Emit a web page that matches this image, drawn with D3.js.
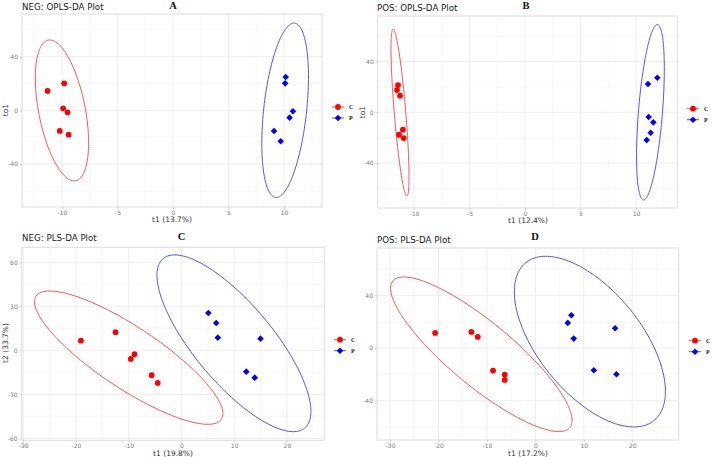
<!DOCTYPE html>
<html><head><meta charset="utf-8">
<script src="https://cdn.jsdelivr.net/npm/d3@7/dist/d3.min.js"></script>
<style>body{margin:0;background:#fff}svg{display:block}</style>
</head><body>
<svg id="chart" width="717" height="457"></svg>
<script>
// ---------- DATA ----------
const groups = ["C", "P"];
// Panel A: NEG OPLS-DA
const negOplsC = [[-11.3,14.4],[-9.8,20.1],[-9.9,1.5],[-9.5,-1.5],[-10.2,-15.4],[-9.4,-18.2]];
const negOplsP = [[10.15,24.8],[10.1,20.1],[10.8,-0.7],[10.5,-5.5],[9.1,-15.4],[9.7,-23.1]];
// Panel B: POS OPLS-DA
const posOplsC = [[-11.44,21.5],[-11.53,17.6],[-11.26,13.1],[-11.0,-13.7],[-11.35,-17.7],[-10.93,-20.3]];
const posOplsP = [[11.08,22.3],[11.92,27.3],[11.14,-3.7],[11.56,-7.9],[11.32,-16.1],[10.96,-21.9]];
// Panel C: NEG PLS-DA
const negPlsC = [[-19.07,6.5],[-12.5,12.3],[-8.9,-2.7],[-9.6,-5.9],[-5.65,-17.0],[-4.5,-22.3]];
const negPlsP = [[5.1,25.4],[6.6,18.6],[6.9,8.6],[15.0,7.9],[12.3,-14.6],[13.9,-18.7]];
// Panel D: POS PLS-DA
const posPlsC = [[-20.7,11.4],[-13.2,12.2],[-11.9,8.4],[-8.74,-17.2],[-6.33,-20.2],[-6.33,-24.3]];
const posPlsP = [[7.44,24.8],[6.69,19.0],[7.93,7.1],[16.47,15.0],[12.07,-16.9],[16.74,-20.0]];
// Ellipses: [centerX, centerY, halfWidthX, halfHeightY, xOffsetOfTopPoint] in data units
const negOplsEll = [[-10.0,-0.1,2.4,52.5,-1.1],[10.1,0,2.1,65,0.8]];
const posOplsEll = [[-11.26,-0.2,0.81,65.9,-0.62],[11.3,0,1.25,69.2,0.62]];
const negPlsEll = [[-10.0,-5.05,17.87,45.45,-15.0],[9.96,4.75,14.6,60.25,-11.25]];
const posPlsEll = [[-11.16,-4.8,18.74,58.7,-16.0],[11.26,4.8,15.6,64.8,-9.1]];
// Axis ticks / labels
const oplsXTicks = [-10,-5,0,5,10];
const oplsYTicks = [-40,0,40];
const negPlsXTicks = [-30,-20,-10,0,10,20];
const negPlsYTicks = [-60,-30,0,30,60];
const posPlsXTicks = [-30,-20,-10,0,10,20];
const posPlsYTicks = [-40,0,40];
const titles = ["NEG: OPLS-DA Plot","POS: OPLS-DA Plot","NEG: PLS-DA Plot","POS: PLS-DA Plot"];
const letters = ["A","B","C","D"];
const xTitles = ["t1 (13.7%)","t1 (12.4%)","t1 (19.8%)","t1 (17.2%)"];
const yTitles = ["to1","to1","t2 (33.7%)",""];

// ---------- LAYOUT ----------
const panels = [
  {C:negOplsC,P:negOplsP,E:negOplsEll,xt:oplsXTicks,yt:oplsYTicks,
   box:[22,322,14,207],xd:[-13.6,13.42],yd:[-72.06,71.76],
   title:[22,10],letter:[173,8.5],xlab:[172,222],ylab:[5.5,110],leg:[338,107]},
  {C:posOplsC,P:posOplsP,E:posOplsEll,xt:oplsXTicks,yt:oplsYTicks,
   box:[377.7,677.3,16,208],xd:[-13.27,13.72],yd:[-75.5,76],
   title:[377,11],letter:[526,8.5],xlab:[528,223],ylab:[362,112],leg:[693,108.7]},
  {C:negPlsC,P:negPlsP,E:negPlsEll,xt:negPlsXTicks,yt:negPlsYTicks,
   box:[21.7,324.3,247.3,440.3],xd:[-30.3,27.1],yd:[-61.4,70.2],
   title:[22,241],letter:[181.5,239.5],xlab:[173,455.5],ylab:[5,343],leg:[340,339.7]},
  {C:posPlsC,P:posPlsP,E:posPlsEll,xt:posPlsXTicks,yt:posPlsYTicks,
   box:[377,678.7,248,440],xd:[-32.7,29.6],yd:[-69.9,75.9],
   title:[377,242.5],letter:[535,240],xlab:[528,455.5],ylab:[362,344],leg:[695,340.7]}
];
const red = "#ff0000", blue = "#0000ff";
const ellColors = ["#ff5050","#5050ff"];
const svg = d3.select("#chart");

function ellipsePts(e){
  const [cx,cy,hw,hh,dx] = e;
  const sxy = dx*hh, l21 = sxy/hw, l22 = Math.sqrt(Math.max(0, hh*hh - l21*l21));
  const pts = [];
  for(let i=0;i<=200;i++){
    const t = i/200*2*Math.PI;
    pts.push([cx + hw*Math.cos(t), cy + l21*Math.cos(t) + l22*Math.sin(t)]);
  }
  return pts;
}
const diamond = d3.symbol().type(d3.symbolDiamond2 || d3.symbolDiamond).size(28);

panels.forEach((p,i)=>{
  const [x0,x1,y0,y1] = p.box;
  const x = d3.scaleLinear().domain(p.xd).range([x0,x1]);
  const y = d3.scaleLinear().domain(p.yd).range([y1,y0]);
  const g = svg.append("g");
  const xt = p.xt, yt = p.yt;
  const xs = xt[1]-xt[0], ys = yt[1]-yt[0];
  const minorX = d3.range(xt[0]-xs*3.5, xt[xt.length-1]+xs*3.5, xs).filter(v=>v>p.xd[0]&&v<p.xd[1]);
  const minorY = d3.range(yt[0]-ys*3.5, yt[yt.length-1]+ys*3.5, ys).filter(v=>v>p.yd[0]&&v<p.yd[1]);
  g.selectAll(".mx").data(minorX).join("line").attr("x1",d=>x(d)).attr("x2",d=>x(d)).attr("y1",y0).attr("y2",y1)
    .attr("stroke","#f4f4f4").attr("stroke-width",0.6);
  g.selectAll(".my").data(minorY).join("line").attr("y1",d=>y(d)).attr("y2",d=>y(d)).attr("x1",x0).attr("x2",x1)
    .attr("stroke","#f4f4f4").attr("stroke-width",0.6);
  g.selectAll(".gx").data(xt).join("line").attr("x1",d=>x(d)).attr("x2",d=>x(d)).attr("y1",y0).attr("y2",y1)
    .attr("stroke","#ebebeb").attr("stroke-width",0.9);
  g.selectAll(".gy").data(yt).join("line").attr("y1",d=>y(d)).attr("y2",d=>y(d)).attr("x1",x0).attr("x2",x1)
    .attr("stroke","#ebebeb").attr("stroke-width",0.9);
  g.append("rect").attr("x",x0).attr("y",y0).attr("width",x1-x0).attr("height",y1-y0)
    .attr("fill","none").attr("stroke","#dcdcdc").attr("stroke-width",1);
  const xa = g.append("g").attr("transform",`translate(0,${y1})`)
    .call(d3.axisBottom(x).tickValues(xt).tickSize(2).tickPadding(1.5).tickFormat(d=>String(d)));
  const ya = g.append("g").attr("transform",`translate(${x0},0)`)
    .call(d3.axisLeft(y).tickValues(yt).tickSize(2).tickPadding(2).tickFormat(d=>String(d)));
  [xa,ya].forEach(a=>{
    a.select(".domain").remove();
    a.selectAll(".tick line").attr("stroke","#cccccc");
    a.selectAll(".tick text").attr("fill","#7a7a7a").style("font-family","DejaVu Sans").style("font-size","6px");
  });
  const line = d3.line().x(d=>x(d[0])).y(d=>y(d[1]));
  p.E.forEach((e,k)=>{
    g.append("path").attr("d",line(ellipsePts(e))).attr("fill","none")
      .attr("stroke",ellColors[k]).attr("stroke-width",1);
  });
  g.selectAll(".pc").data(p.C).join("circle").attr("cx",d=>x(d[0])).attr("cy",d=>y(d[1])).attr("r",2.9).attr("fill",red);
  g.selectAll(".pp").data(p.P).join("path").attr("d",diamond)
    .attr("transform",d=>`translate(${x(d[0])},${y(d[1])})`).attr("fill",blue);
  g.append("text").attr("x",p.title[0]).attr("y",p.title[1]).text(titles[i])
    .style("font-family","DejaVu Sans").style("font-size","8.7px").attr("fill","#1a1a1a");
  g.append("text").attr("x",p.letter[0]).attr("y",p.letter[1]).text(letters[i]).attr("text-anchor","middle")
    .style("font-family","Liberation Serif").style("font-weight","bold").style("font-size","10.5px").attr("fill","#111");
  g.append("text").attr("x",p.xlab[0]).attr("y",p.xlab[1]).text(xTitles[i]).attr("text-anchor","middle")
    .style("font-family","DejaVu Sans").style("font-size","7.5px").attr("fill","#333");
  if(yTitles[i]) g.append("text").attr("transform",`translate(${p.ylab[0]},${p.ylab[1]}) rotate(-90)`)
    .text(yTitles[i]).attr("text-anchor","middle").attr("dy","0.35em")
    .style("font-family","DejaVu Sans").style("font-size","7.5px").attr("fill","#333");
  groups.forEach((gr,k)=>{
    const lx = p.leg[0], ly = p.leg[1] + k*11;
    const col = k===0?red:blue;
    g.append("line").attr("x1",lx-6).attr("x2",lx+6).attr("y1",ly).attr("y2",ly).attr("stroke",ellColors[k]).attr("stroke-width",1);
    if(k===0) g.append("circle").attr("cx",lx).attr("cy",ly).attr("r",2.9).attr("fill",col);
    else g.append("path").attr("d",diamond).attr("transform",`translate(${lx},${ly})`).attr("fill",col);
    g.append("text").attr("x",lx+11).attr("y",ly).attr("dy","0.35em").text(gr)
      .style("font-family","Liberation Serif").style("font-weight","bold").style("font-size","6px").attr("fill","#222");
  });
});
</script>
</body></html>
